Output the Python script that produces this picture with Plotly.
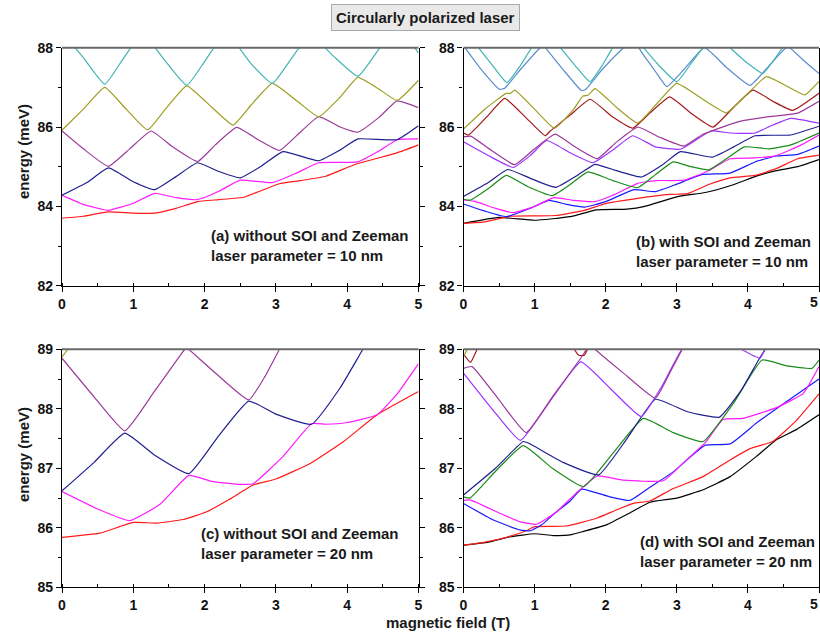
import plotly.graph_objects as go

# ---------------- data (magnetic field T, energy meV) ----------------
# Panel (a): without SOI and Zeeman, laser parameter 10 nm
A_RED = [(0,83.70),(0.3,83.75),(0.65,83.86),(1.0,83.83),(1.3,83.83),(1.6,83.95),(1.9,84.12),(2.2,84.17),(2.55,84.23),(2.8,84.4),(3.05,84.57),(3.35,84.65),(3.7,84.76),(4.1,85.05),(4.4,85.2),(4.7,85.35),(5,85.55)]
A_MAGENTA = [(0,84.28),(0.3,84.05),(0.65,83.9),(1.0,84.08),(1.3,84.33),(1.6,84.22),(1.9,84.17),(2.2,84.38),(2.5,84.66),(2.95,84.6),(3.3,84.85),(3.6,85.1),(4.15,85.12),(4.45,85.4),(4.7,85.68),(5,85.7)]
A_BLUE = [(0,84.28),(0.35,84.6),(0.65,84.97),(1.0,84.62),(1.3,84.42),(1.6,84.75),(1.9,85.1),(2.2,84.88),(2.5,84.72),(2.8,85.02),(3.1,85.38),(3.6,85.15),(3.9,85.42),(4.15,85.7),(4.7,85.68),(5,86.03)]
A_PURPLE = [(0,85.9),(0.3,85.45),(0.65,85.01),(0.95,85.45),(1.25,85.9),(1.55,85.5),(1.9,85.13),(2.15,85.55),(2.45,85.99),(2.75,85.68),(3.05,85.41),(3.3,85.8),(3.6,86.26),(3.9,86.0),(4.15,85.87),(4.45,86.25),(4.7,86.66),(5,86.49)]
A_OLIVE = [(0,85.92),(0.3,86.45),(0.6,87.0),(0.9,86.45),(1.2,85.93),(1.45,86.45),(1.75,87.04),(2.1,86.5),(2.4,86.05),(2.65,86.55),(2.95,87.1),(3.3,86.65),(3.6,86.26),(3.9,86.75),(4.15,87.25),(4.45,86.95),(4.7,86.67),(5,87.18)]
A_CYAN = [(0,88.39),(0.3,87.75),(0.6,87.08),(0.85,87.7),(1.13,88.36),(1.45,87.66),(1.75,87.05),(2.0,87.65),(2.3,88.38),(2.65,87.6),(2.95,87.1),(3.2,87.68),(3.48,88.33),(3.8,87.8),(4.15,87.28),(4.4,87.85),(4.7,88.56),(5,87.86)]

# Panel (b): with SOI and Zeeman, laser parameter 10 nm
B_BLACK = [(0,83.57),(0.5,83.72),(1.0,83.65),(1.5,83.74),(1.87,83.91),(2.3,83.93),(2.55,84.0),(3.0,84.24),(3.4,84.35),(3.75,84.52),(4.15,84.78),(4.4,84.9),(4.7,85.0),(5,85.18)]
B_RED = [(0,83.57),(0.3,83.61),(0.65,83.75),(1.0,83.76),(1.3,83.77),(1.7,83.9),(2.0,84.07),(2.45,84.2),(2.9,84.3),(3.15,84.32),(3.45,84.55),(3.75,84.72),(4.1,84.78),(4.4,84.95),(4.7,85.2),(5,85.29)]
B_BLUE = [(0,84.06),(0.3,83.88),(0.6,83.74),(0.95,83.96),(1.2,84.15),(1.45,84.05),(1.7,83.98),(2.0,84.12),(2.4,84.42),(2.7,84.37),(3.0,84.56),(3.35,84.8),(3.75,84.84),(4.1,85.12),(4.4,85.27),(4.7,85.31),(5,85.52)]
B_MAGENTA = [(0,84.16),(0.15,84.13),(0.45,83.95),(0.7,83.84),(1.0,84.0),(1.27,84.22),(1.55,84.15),(1.85,84.12),(2.1,84.28),(2.45,84.58),(2.7,84.65),(3.1,84.66),(3.45,84.9),(3.75,85.2),(4.1,85.22),(4.4,85.28),(4.75,85.55),(5,85.8)]
B_GREEN = [(0,84.18),(0.1,84.16),(0.35,84.45),(0.6,84.78),(0.9,84.5),(1.25,84.27),(1.5,84.55),(1.75,84.87),(2.1,84.65),(2.45,84.47),(2.7,84.8),(2.95,85.12),(3.2,85.0),(3.45,84.92),(3.7,85.2),(3.95,85.5),(4.3,85.45),(4.6,85.55),(5,85.85)]
B_NAVY = [(0,84.25),(0.35,84.6),(0.62,84.93),(0.95,84.7),(1.3,84.48),(1.6,84.78),(1.85,85.06),(2.15,84.9),(2.5,84.74),(2.8,85.05),(3.05,85.38),(3.5,85.24),(3.8,85.5),(4.1,85.78),(4.6,85.8),(5,86.02)]
B_VIOLET = [(0,85.63),(0.35,85.28),(0.7,84.98),(0.95,85.3),(1.17,85.66),(1.5,85.35),(1.82,85.1),(2.1,85.42),(2.38,85.78),(2.7,85.5),(3.05,85.44),(3.25,85.65),(3.48,85.9),(3.75,85.85),(4.1,85.85),(4.35,86.05),(4.6,86.22),(5,86.1)]
B_PURPLE = [(0,85.75),(0.1,85.77),(0.4,85.4),(0.72,85.05),(1.0,85.45),(1.29,85.82),(1.55,85.52),(1.88,85.2),(2.15,85.62),(2.45,86.0),(2.75,85.75),(3.1,85.52),(3.35,85.8),(3.58,85.96),(3.9,86.15),(4.25,86.25),(4.5,86.3),(4.7,86.35),(5,86.65)]
B_DARKRED = [(0,85.85),(0.07,85.8),(0.35,86.3),(0.58,86.72),(0.87,86.25),(1.15,85.78),(1.22,85.9),(1.5,86.3),(1.78,86.7),(2.1,86.25),(2.38,85.97),(2.62,86.35),(2.9,86.76),(3.2,86.35),(3.51,86.0),(3.8,86.5),(4.07,86.93),(4.35,86.65),(4.63,86.42),(5,86.85)]
B_OLIVE = [(0,85.95),(0.3,86.45),(0.6,86.85),(0.66,86.85),(0.72,86.93),(1.0,86.45),(1.28,85.97),(1.55,86.45),(1.68,86.78),(1.75,86.8),(1.85,86.97),(2.15,86.5),(2.45,86.1),(2.75,86.65),(3.0,87.1),(3.35,86.72),(3.7,86.36),(4.0,86.85),(4.26,87.27),(4.55,87.03),(4.8,86.81),(5,87.15)]
B_STEEL = [(0,88.05),(0.25,87.45),(0.51,86.95),(0.58,86.98),(0.8,87.45),(1.08,88.0),(1.12,88.05),(1.15,88.0),(1.4,87.45),(1.66,86.92),(1.72,86.95),(1.95,87.45),(2.25,88.0),(2.38,88.2),(2.53,87.82),(2.7,87.4),(2.86,87.02),(3.1,87.45),(3.39,88.0),(3.7,87.5),(4.03,87.05),(4.3,87.55),(4.56,88.02),(4.8,87.65),(5,87.35)]
B_CYAN = [(0,88.5),(0.21,88.0),(0.41,87.55),(0.61,87.12),(0.8,87.55),(0.96,88.0),(1.16,88.4),(1.36,88.0),(1.57,87.55),(1.78,87.14),(1.95,87.55),(2.1,88.0),(2.3,88.4),(2.53,88.0),(2.75,87.55),(3.0,87.14),(3.2,87.6),(3.37,88.0),(3.55,88.35),(3.75,88.0),(4.0,87.6),(4.21,87.35),(4.35,87.65),(4.49,88.0),(4.7,88.45),(5,88.8)]

# Panel (c): without SOI and Zeeman, laser parameter 20 nm
C_RED = [(0,85.84),(0.53,85.91),(1.0,86.09),(1.33,86.08),(1.7,86.14),(2.03,86.27),(2.35,86.48),(2.68,86.72),(3.0,86.82),(3.48,87.08),(3.95,87.45),(4.42,87.9),(5,88.29)]
C_MAGENTA = [(0,86.61),(0.53,86.3),(0.95,86.12),(1.38,86.4),(1.78,86.88),(2.1,86.78),(2.5,86.73),(2.68,86.74),(3.1,87.2),(3.5,87.75),(3.7,87.74),(4.0,87.77),(4.42,87.9),(4.7,88.25),(5,88.76)]
C_BLUE = [(0,86.62),(0.45,87.1),(0.88,87.59),(1.3,87.22),(1.78,86.91),(2.2,87.55),(2.62,88.13),(3.0,87.91),(3.5,87.74),(3.9,88.35),(4.22,89.0),(4.3,89.15)]
C_PURPLE = [(0,88.85),(0.45,88.2),(0.88,87.63),(1.3,88.3),(1.72,89.0),(1.75,89.04),(1.78,89.0),(2.2,88.55),(2.62,88.15),(2.85,88.55),(3.05,89.0),(3.2,89.3)]
C_OLIVE = [(0,88.87),(0.08,89.0),(0.15,89.2)]

# Panel (d): with SOI and Zeeman, laser parameter 20 nm
D_BLACK = [(0,85.71),(0.35,85.76),(0.66,85.85),(1.0,85.9),(1.26,85.87),(1.5,85.88),(1.69,85.94),(2.01,86.05),(2.34,86.25),(2.62,86.43),(3.0,86.5),(3.37,86.64),(3.75,86.86),(4.12,87.2),(4.4,87.48),(4.68,87.65),(5,87.9)]
D_RED = [(0,85.71),(0.3,85.76),(0.66,85.86),(0.9,85.96),(1.0,86.02),(1.45,86.03),(1.87,86.16),(2.15,86.3),(2.39,86.41),(2.62,86.45),(2.95,86.66),(3.37,86.86),(3.75,87.14),(4.03,87.33),(4.35,87.45),(4.68,87.8),(5,88.25)]
D_BLUE = [(0,86.41),(0.42,86.13),(0.8,85.96),(0.94,85.95),(1.1,86.05),(1.26,86.22),(1.5,86.45),(1.66,86.65),(2.06,86.52),(2.34,86.46),(2.62,86.68),(2.95,86.94),(3.2,87.2),(3.4,87.39),(3.75,87.41),(4.12,87.76),(4.4,88.0),(5,88.5)]
D_MAGENTA = [(0,86.46),(0.09,86.47),(0.52,86.24),(0.8,86.1),(1.03,86.06),(1.31,86.27),(1.6,86.6),(1.88,86.87),(2.25,86.8),(2.81,86.79),(3.1,87.1),(3.4,87.43),(3.65,87.82),(3.93,87.84),(4.4,88.02),(4.78,88.26),(5,88.71)]
D_GREEN = [(0,86.52),(0.09,86.5),(0.45,86.95),(0.84,87.38),(1.25,87.0),(1.69,86.69),(2.1,87.25),(2.53,87.84),(2.95,87.6),(3.37,87.45),(3.8,88.1),(4.2,88.82),(4.55,88.72),(4.9,88.68),(5,88.82)]
D_NAVY = [(0,86.55),(0.45,87.0),(0.84,87.45),(0.92,87.42),(1.4,87.1),(1.9,86.89),(2.3,87.5),(2.7,88.16),(3.15,87.95),(3.6,87.86),(3.9,88.3),(4.15,88.82),(4.3,89.1)]
D_VIOLET = [(0,88.6),(0.4,88.0),(0.8,87.47),(1.2,88.1),(1.65,88.79),(2.1,88.3),(2.5,87.87),(2.8,88.4),(3.1,89.05),(3.5,89.3),(3.91,89.0),(4.17,88.85),(4.24,89.0),(4.4,89.3)]
D_PURPLE = [(0,88.68),(0.12,88.71),(0.5,88.15),(0.88,87.6),(1.25,88.2),(1.65,88.85),(1.78,89.08),(1.85,89.0),(2.25,88.6),(2.7,88.18),(2.9,88.6),(3.1,89.05),(3.3,89.4)]
D_DARKRED = [(0,88.92),(0.1,88.78),(0.2,89.02),(0.4,89.4),(None,None),(1.5,89.3),(1.56,89.0),(1.62,88.9),(1.7,88.9),(1.75,89.02),(1.85,89.3)]
D_OLIVE = [(0,88.88),(0.06,89.02),(0.1,89.2)]

X_TICKS = [0, 1, 2, 3, 4, 5]
TITLE = "Circularly polarized laser"
PANEL_LABELS = ["(a) without SOI and Zeeman<br>laser parameter = 10 nm",
                "(b) with SOI and Zeeman<br>laser parameter = 10 nm",
                "(c) without SOI and Zeeman<br>laser parameter = 20 nm",
                "(d) with SOI and Zeeman<br>laser parameter = 20 nm"]
X_TITLE = "magnetic field (T)"
Y_TITLE = "energy (meV)"

# ---------------- styling ----------------
COL = dict(black="#000000", red="#ff1a1a", blue="#1a1aff", magenta="#ff1aff",
           green="#1a8c1a", navy="#1f1f8f", violet="#9b33ff", purple="#9b3a9b",
           darkred="#a31818", olive="#9e9e22", steel="#5a8ccc", cyan="#40b4b4")

panels = {
    1: [(A_RED, "red"), (A_MAGENTA, "magenta"), (A_BLUE, "navy"), (A_PURPLE, "purple"),
        (A_OLIVE, "olive"), (A_CYAN, "cyan")],
    2: [(B_BLACK, "black"), (B_RED, "red"), (B_BLUE, "blue"), (B_MAGENTA, "magenta"),
        (B_GREEN, "green"), (B_NAVY, "navy"), (B_VIOLET, "violet"), (B_PURPLE, "purple"),
        (B_DARKRED, "darkred"), (B_OLIVE, "olive"), (B_STEEL, "steel"), (B_CYAN, "cyan")],
    3: [(C_RED, "red"), (C_MAGENTA, "magenta"), (C_BLUE, "navy"), (C_PURPLE, "purple"),
        (C_OLIVE, "olive")],
    4: [(D_BLACK, "black"), (D_RED, "red"), (D_BLUE, "blue"), (D_MAGENTA, "magenta"),
        (D_GREEN, "green"), (D_NAVY, "navy"), (D_VIOLET, "violet"), (D_PURPLE, "purple"),
        (D_DARKRED, "darkred"), (D_OLIVE, "olive")],
}

W, H = 820, 637
FONT = "Liberation Sans, Arial, sans-serif"

fig = go.Figure()
for k, curves in panels.items():
    sx = "" if k == 1 else str(k)
    for pts, c in curves:
        fig.add_trace(go.Scatter(
            x=[p[0] for p in pts], y=[p[1] for p in pts], mode="lines",
            line=dict(color=COL[c], width=1.2, shape="spline", smoothing=0.4),
            xaxis="x" + sx, yaxis="y" + sx,
            showlegend=False, hoverinfo="skip", connectgaps=False))

def px(v):
    return v / W

def py(v):
    return 1 - v / H

xdom_l = [px(62), px(418.5)]
xdom_r = [px(463.5), px(819)]
ydom_t = [py(285.7), py(47.7)]
ydom_b = [py(587.3), py(349.3)]

tickfont = dict(family=FONT, size=14, color="#111", weight="bold")

def xax(dom, anchor, right_edge=False):
    # on the right-hand panels the last label ("5") sits on the page edge;
    # it is drawn as an annotation nudged inward so it stays fully visible
    labels = [str(v) if not (right_edge and v == X_TICKS[-1]) else "" for v in X_TICKS]
    return dict(domain=dom, anchor=anchor, range=[0, 5],
                tickmode="array", tickvals=X_TICKS, ticktext=labels,
                showline=True, linecolor="black", linewidth=1.3, mirror=False,
                ticks="outside", ticklen=5, tickwidth=1.2, tickcolor="black",
                minor=dict(dtick=0.5, tick0=0, ticks="inside", ticklen=3, tickwidth=1, tickcolor="black"),
                showgrid=False, zeroline=False, tickfont=tickfont, fixedrange=True,
                automargin=False)

def yax(dom, anchor, rng, dt):
    return dict(domain=dom, anchor=anchor, range=rng, dtick=dt, tick0=rng[0],
                showline=True, linecolor="black", linewidth=1.3, mirror="ticks",
                ticks="outside", ticklen=5, tickwidth=1.2, tickcolor="black",
                minor=dict(dtick=dt / 2, ticks="outside", ticklen=3, tickwidth=1, tickcolor="black"),
                showgrid=False, zeroline=False, tickfont=tickfont, fixedrange=True,
                automargin=False)

fig.update_layout(
    width=W, height=H, margin=dict(l=0, r=0, t=0, b=0, autoexpand=False),
    paper_bgcolor="white", plot_bgcolor="white",
    xaxis=xax(xdom_l, "y"), yaxis=yax(ydom_t, "x", [82, 88], 2),
    xaxis2=xax(xdom_r, "y2", True), yaxis2=yax(ydom_t, "x2", [82, 88], 2),
    xaxis3=xax(xdom_l, "y3"), yaxis3=yax(ydom_b, "x3", [85, 89], 1),
    xaxis4=xax(xdom_r, "y4", True), yaxis4=yax(ydom_b, "x4", [85, 89], 1),
)

# grey top frame line of each panel
shapes = []
for k in range(1, 5):
    sx = "" if k == 1 else str(k)
    shapes.append(dict(type="line", xref="x" + sx + " domain", yref="y" + sx + " domain",
                       x0=0, x1=1, y0=1, y1=1, line=dict(color="#6a6a6a", width=2)))
fig.update_layout(shapes=shapes)

afont = dict(family=FONT, size=15, color="#1a1a1a", weight="bold")
ann = []
ann.append(dict(text=TITLE, x=px(425.5), y=py(17.5), xref="paper", yref="paper",
                showarrow=False, font=afont, bgcolor="#e9e9e9", bordercolor="#a8a8a8",
                borderwidth=1, borderpad=4, xanchor="center", yanchor="middle"))
label_pos = [(209, 246), (634, 251), (199, 543.5), (638, 551)]
for txt, (lx, ly) in zip(PANEL_LABELS, label_pos):
    ann.append(dict(text=txt, x=px(lx), y=py(ly), xref="paper", yref="paper",
                    showarrow=False, font=afont, align="left",
                    xanchor="left", yanchor="middle"))
for cy in (152, 455):
    ann.append(dict(text=Y_TITLE, x=px(23), y=py(cy), xref="paper", yref="paper",
                    showarrow=False, font=afont, textangle=-90,
                    xanchor="center", yanchor="middle"))
ann.append(dict(text=X_TITLE, x=px(448), y=py(622), xref="paper", yref="paper",
                showarrow=False, font=afont, xanchor="center", yanchor="middle"))
for ly in (302, 604):
    ann.append(dict(text=str(X_TICKS[-1]), x=px(819), y=py(ly), xref="paper", yref="paper",
                    showarrow=False, font=tickfont, xanchor="right", yanchor="middle",
                    borderpad=0))
fig.update_layout(annotations=ann)

fig.write_html("out.html", config={"displayModeBar": False},
               post_script="document.body.style.margin='0';document.body.style.overflow='hidden';")
